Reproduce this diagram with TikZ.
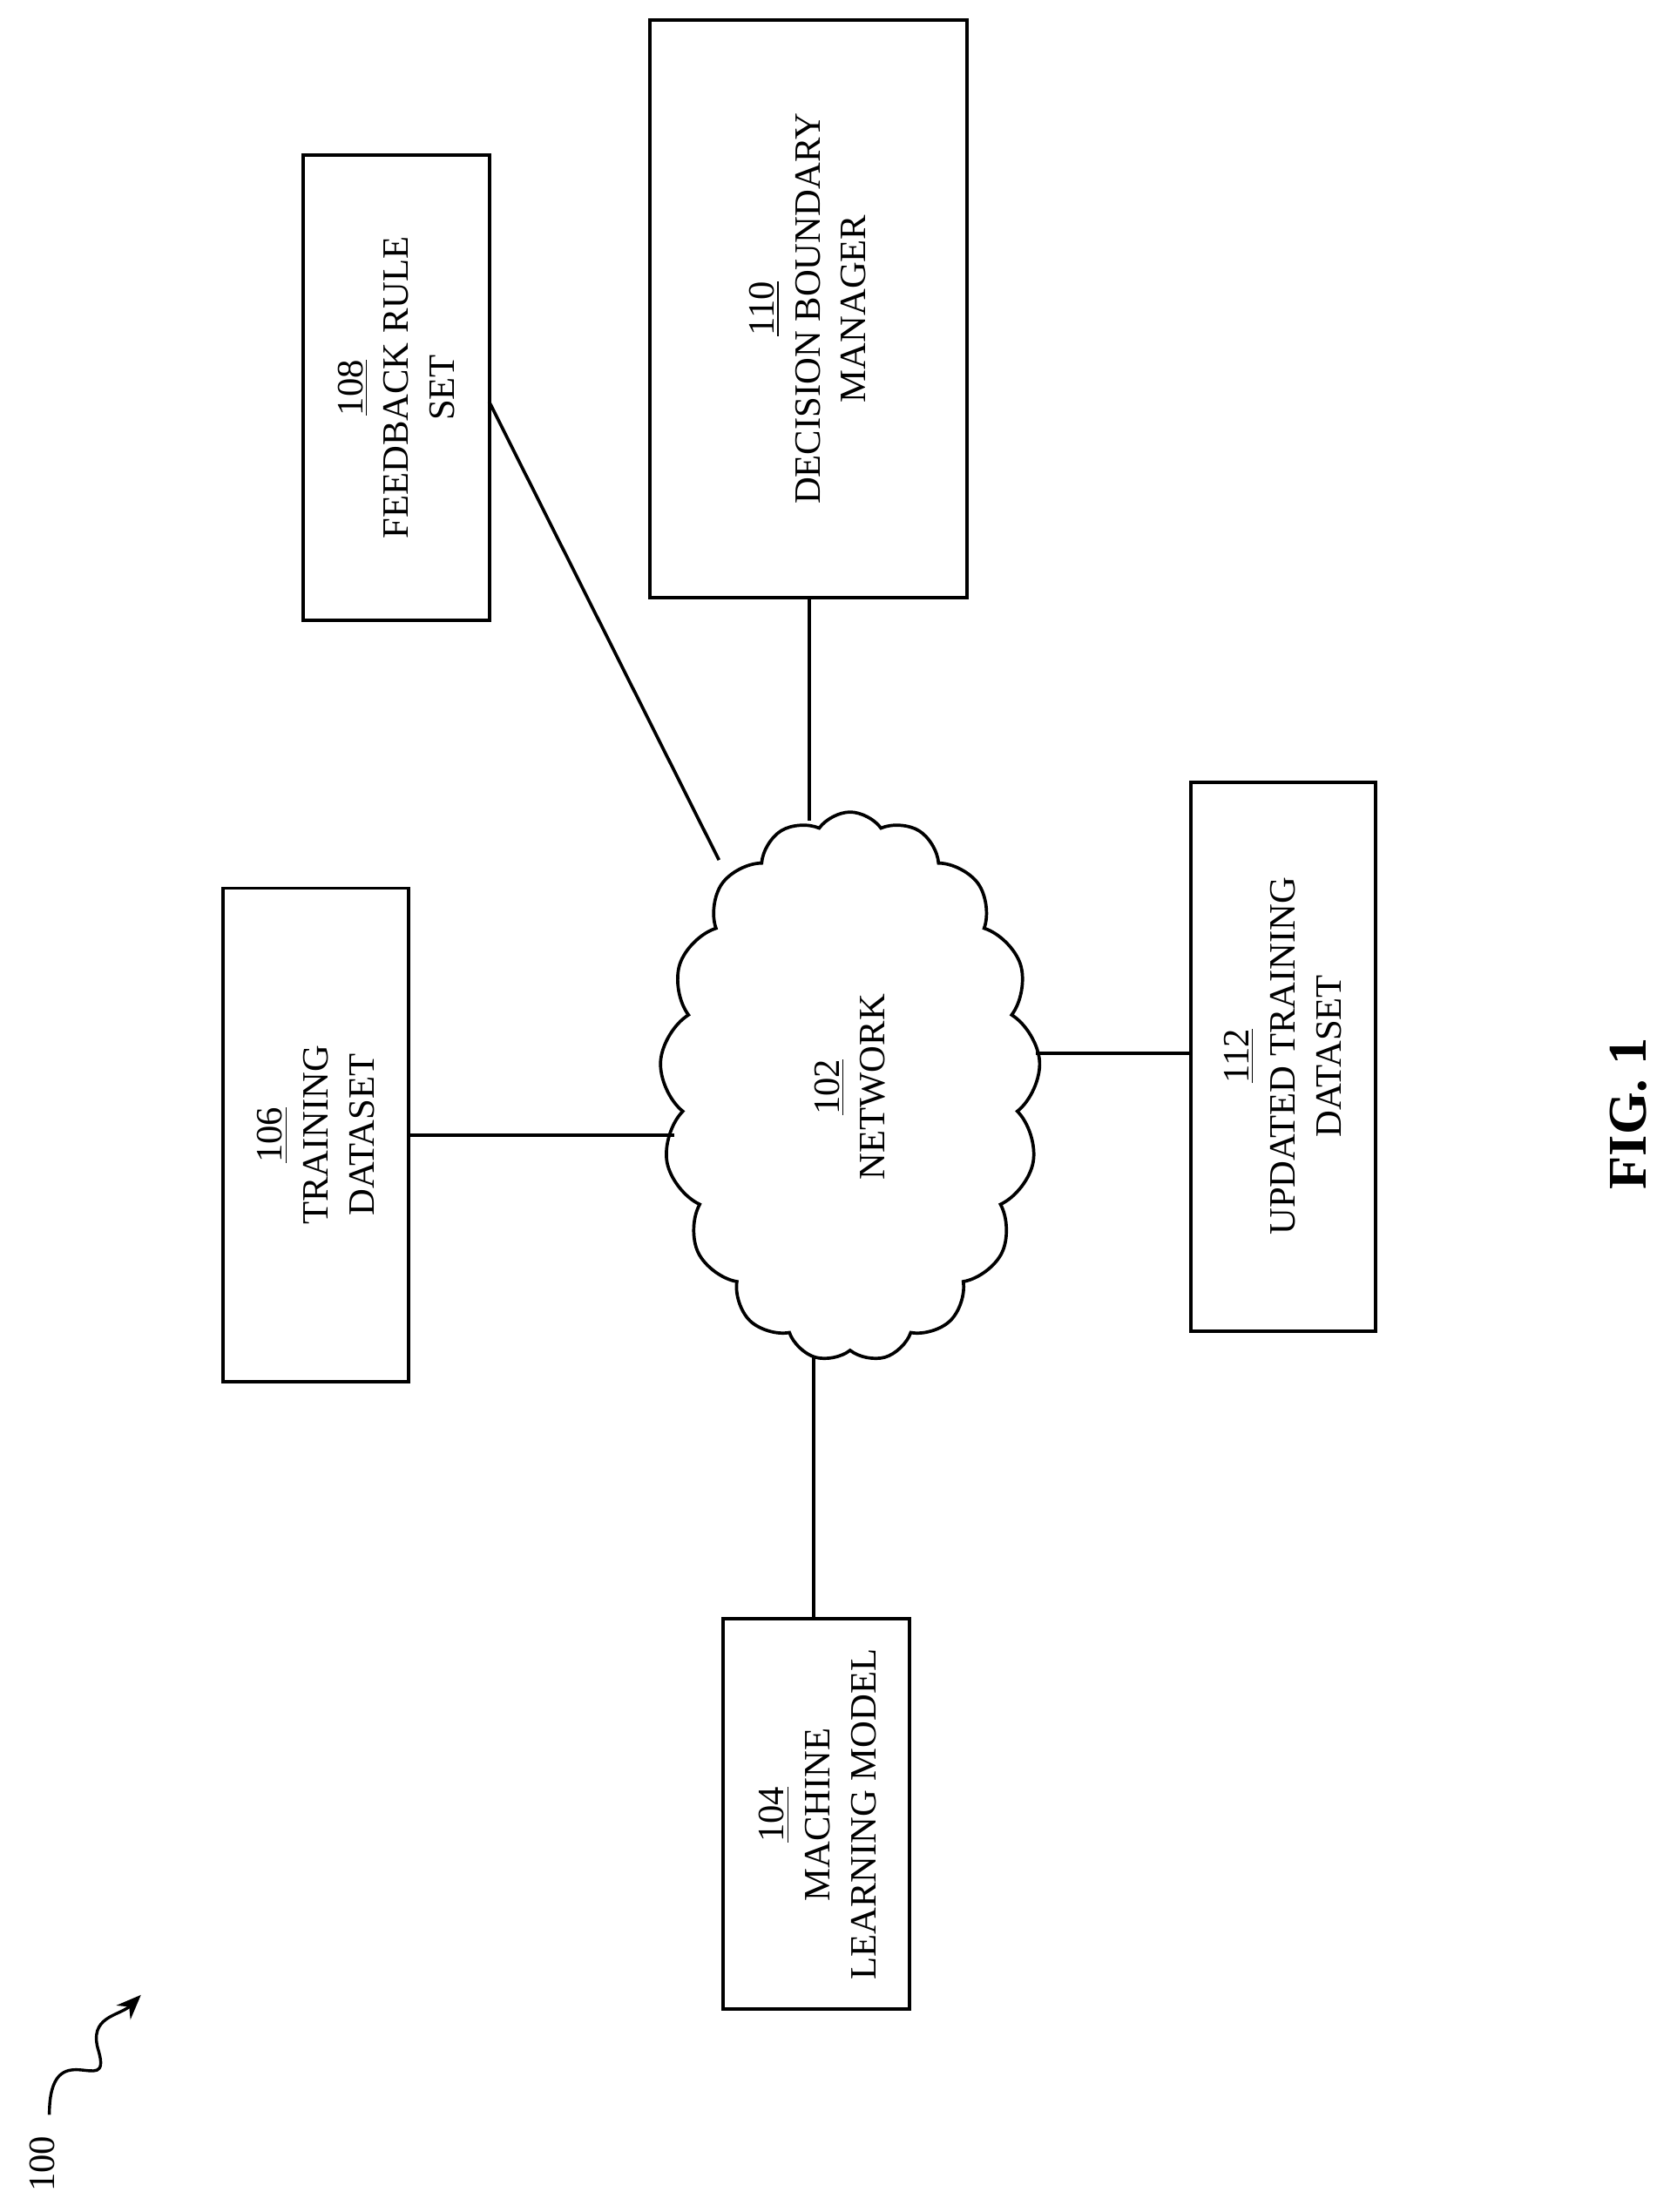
\documentclass[tikz,border=0pt]{standalone}
\usepackage{fontspec}
\setmainfont{Liberation Serif}
\usetikzlibrary{shapes.symbols,arrows.meta}
\begin{document}
\begin{tikzpicture}[x=0.02cm,y=-0.02cm,
  box/.style={draw,line width=1.4pt},
  lab/.style={rotate=90,align=center,font=\fontsize{15}{18.5}\selectfont},
  ln/.style={line width=1.3pt}]
\useasboundingbox (0,0) rectangle (1189,1569);
\draw[box] (513,1148) rectangle (645,1425);
\node[lab] (n104) at (580,1287) {\underline{104}\\MACHINE\\LEARNING MODEL};
\draw[box] (158,630) rectangle (290,980);
\node[lab] (n106) at (224,805) {\underline{106}\\TRAINING\\DATASET};
\draw[box] (215,110) rectangle (347,440);
\node[lab] (n108) at (281,275) {\underline{108}\\FEEDBACK RULE\\SET};
\draw[box] (461,14) rectangle (686,424);
\node[lab] (n110) at (573,219) {\underline{110}\\DECISION BOUNDARY\\MANAGER};
\draw[box] (845,555) rectangle (976,944);
\node[lab] (n112) at (910,749) {\underline{112}\\UPDATED TRAINING\\DATASET};
\node[cloud,draw,line width=1.3pt,cloud puffs=17,cloud puff arc=110,
  minimum width=270*0.02cm,minimum height=390*0.02cm,aspect=0.68,inner sep=0pt] (cl) at (603,771) {};
\node[lab] at (603,771) {\underline{102}\\NETWORK};
\coordinate (a1) at (290,805); \coordinate (a2) at (478,805);
\draw[ln] (a1) -- (a2);
\coordinate (b1) at (347,285); \coordinate (b2) at (510,610);
\draw[ln] (b1) -- (b2);
\coordinate (c1) at (574,424); \coordinate (c2) at (574,582);
\draw[ln] (c1) -- (c2);
\coordinate (d1) at (845,747); \coordinate (d2) at (735,747);
\draw[ln] (d1) -- (d2);
\coordinate (e1) at (577,1148); \coordinate (e2) at (577,963);
\draw[ln] (e1) -- (e2);
\node[rotate=90,font=\bfseries\fontsize{22}{26}\selectfont] (fig) at (1155,790) {FIG. 1};
\node[rotate=90,font=\fontsize{15}{18}\selectfont] (n100) at (30,1535) {100};
\coordinate (s1) at (35,1500);
\coordinate (s2) at (100,1415);
\draw[line width=1.2pt,-{Stealth[length=10pt,width=8pt]}] (s1) .. controls (35,1440) and (80,1490) .. (70,1455) .. controls (62,1430) and (85,1430) .. (s2);
\end{tikzpicture}
\end{document}
